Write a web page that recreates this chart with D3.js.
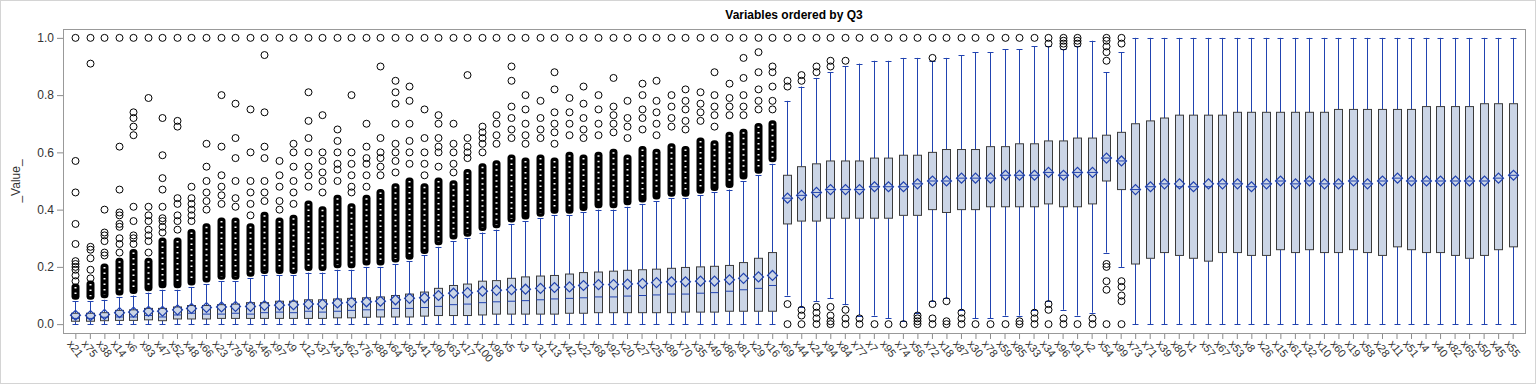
<!DOCTYPE html>
<html>
<head>
<meta charset="utf-8">
<script src="https://cdn.jsdelivr.net/npm/d3@7"></script>
<style>
  body { margin: 0; background: #fff; }
  svg { display: block; font-family: Arial, "Liberation Sans", sans-serif; }
</style>
</head>
<body>
<script>
'use strict';

// variable names, ordered by Q3
const names = ["x21","x75","x38","x14","x6","x93","x47","x52","x48","x66",
  "x23","x79","x36","x46","x97","x9","x12","x37","x43","x62",
  "x76","x88","x64","x83","x41","x90","x63","x17","x100","x98",
  "x5","x3","x31","x13","x42","x22","x68","x92","x20","x27",
  "x25","x89","x70","x35","x49","x86","x81","x29","x16","x69",
  "x44","x24","x94","x84","x77","x7","x95","x74","x56","x72",
  "x18","x87","x30","x78","x59","x85","x33","x34","x96","x91",
  "x2","x54","x99","x73","x71","x39","x80","x1","x57","x67",
  "x53","x8","x26","x15","x61","x32","x10","x60","x19","x58",
  "x28","x11","x51","x4","x40","x82","x65","x50","x45","x55"];

const q1 = [.010,.010,.012,.013,.013,.015,.012,.018,.018,.018,
  .020,.020,.020,.020,.020,.020,.020,.020,.022,.022,
  .024,.025,.025,.025,.028,.030,.030,.030,.032,.035,
  .035,.035,.035,.035,.038,.038,.040,.040,.040,.040,
  .040,.040,.042,.042,.042,.045,.045,.045,.045,.35,
  .36,.36,.37,.37,.37,.37,.37,.38,.38,.40,
  .39,.40,.40,.41,.41,.41,.41,.42,.41,.41,
  .42,.50,.47,.21,.23,.25,.24,.23,.22,.25,
  .25,.24,.24,.26,.25,.26,.25,.25,.26,.25,
  .24,.27,.26,.25,.25,.24,.23,.24,.26,.27];

const medians = [.020,.020,.024,.025,.025,.030,.025,.032,.038,.035,
  .035,.038,.035,.040,.042,.040,.045,.042,.045,.048,
  .050,.050,.055,.055,.058,.062,.068,.070,.075,.078,
  .080,.082,.085,.088,.090,.092,.095,.095,.098,.100,
  .102,.105,.105,.108,.110,.115,.120,.125,.135,.44,
  .45,.46,.47,.47,.47,.48,.48,.48,.49,.50,
  .50,.51,.51,.51,.52,.52,.52,.53,.52,.53,
  .53,.58,.57,.47,.48,.49,.48,.48,.48,.49,
  .49,.48,.49,.50,.49,.50,.49,.49,.50,.49,
  .50,.51,.50,.50,.50,.50,.50,.50,.51,.52];

const q3 = [.038,.038,.040,.048,.050,.055,.055,.060,.065,.065,
  .068,.070,.075,.075,.080,.080,.085,.085,.088,.090,
  .092,.095,.100,.105,.112,.125,.135,.140,.150,.152,
  .160,.165,.168,.170,.175,.180,.182,.185,.188,.190,
  .192,.195,.198,.200,.202,.205,.215,.230,.250,.52,
  .55,.56,.57,.57,.57,.58,.58,.59,.59,.60,
  .61,.61,.61,.62,.62,.63,.63,.64,.64,.65,
  .65,.66,.67,.70,.71,.72,.73,.73,.73,.73,
  .74,.74,.74,.74,.74,.74,.74,.75,.75,.75,
  .75,.75,.75,.76,.76,.76,.76,.77,.77,.77];

const means = [.031,.030,.034,.040,.042,.045,.045,.050,.055,.058,
  .060,.062,.062,.065,.066,.068,.070,.070,.074,.076,
  .078,.080,.085,.090,.092,.100,.108,.110,.115,.118,
  .120,.122,.125,.128,.130,.135,.138,.138,.140,.142,
  .145,.148,.148,.150,.150,.155,.160,.165,.170,.44,
  .45,.46,.47,.47,.47,.48,.48,.48,.49,.50,
  .50,.51,.51,.51,.52,.52,.52,.53,.52,.53,
  .53,.58,.57,.47,.48,.49,.49,.48,.49,.49,
  .49,.48,.49,.50,.49,.50,.49,.49,.50,.49,
  .50,.51,.50,.50,.50,.50,.50,.50,.51,.52];

const whiskerLo = [0,0,0,0,0,0,0,0,0,0, 0,0,0,0,0,0,0,0,0,0,
  0,0,0,0,0,0,0,0,0,0, 0,0,0,0,0,0,0,0,0,0,
  0,0,0,0,0,0,0,0,0,.10,
  .06,.08,.09,.07,.03,.03,.02,.01,.04,.08,
  .09,.05,.02,.02,.03,.03,.05,.08,.05,.03,
  .04,.25,.20,0,0,0,0,0,0,0,
  0,0,0,0,0,0,0,0,0,0, 0,0,0,0,0,0,0,0,0,0];

const whiskerHi = [.08,.08,.085,.095,.10,.11,.12,.12,.13,.14,
  .15,.15,.16,.17,.17,.17,.18,.18,.19,.19,
  .20,.20,.21,.22,.24,.27,.29,.30,.32,.33,
  .35,.36,.37,.38,.38,.39,.40,.40,.41,.42,
  .43,.44,.44,.45,.46,.47,.50,.52,.56,.78,
  .83,.86,.88,.90,.91,.92,.92,.93,.93,.92,
  .93,.94,.95,.95,.96,.96,.97,.97,.96,.97,
  .99,.88,.95,1,1,1,1,1,1,1,
  1,1,1,1,1,1,1,1,1,1, 1,1,1,1,1,1,1,1,1,1];

// top of the packed run of upper outliers (0 = none)
const denseTop = [.13,.14,.20,.22,.25,.22,.29,.29,.32,.34,
  .36,.36,.34,.38,.36,.37,.42,.40,.44,.41,
  .44,.46,.48,.50,.48,.50,.49,.53,.55,.56,
  .58,.57,.58,.57,.59,.58,.59,.60,.58,.61,
  .60,.62,.61,.64,.63,.66,.67,.69,.70,0,
  0,0,0,0,0,0,0,0,0,0, 0,0,0,0,0,0,0,0,0,0,
  0,0,0,0,0,0,0,0,0,0, 0,0,0,0,0,0,0,0,0,0,
  0,0,0,0,0,0,0,0,0,0];

// separate outliers
const outliers = [
  [.15,.17,.19,.20,.21,.22,.28,.35,.46,.57,1],
  [.16,.19,.23,.26,.27,.91,1],
  [.24,.25,.29,.31,.32,.40,1],
  [.25,.28,.30,.34,.35,.38,.39,.47,.62,1],
  [.28,.30,.31,.36,.41,.66,.69,.72,.74,1],
  [.25,.29,.31,.33,.36,.38,.41,.79,1],
  [.32,.34,.36,.37,.41,.47,.51,.59,.72,1],
  [.33,.36,.38,.42,.44,.69,.71,1],
  [.36,.38,.40,.42,.44,.48,1],
  [.40,.43,.46,.50,.55,.63,1],
  [.42,.45,.48,.52,.62,.80,1],
  [.41,.44,.50,.58,.65,.77,1],
  [.38,.42,.46,.50,.60,.75,1],
  [.43,.46,.50,.58,.62,.74,.94,1],
  [.40,.43,.48,.52,.57,1],
  [.42,.46,.50,.55,.60,.63,1],
  [.48,.52,.55,.60,.65,.71,.81,1],
  [.46,.50,.53,.57,.60,.73,1],
  [.50,.54,.56,.60,.64,.68,1],
  [.46,.48,.52,.56,.60,.80,1],
  [.48,.52,.56,.58,.62,.70,1],
  [.52,.55,.58,.60,.65,.90,1],
  [.53,.57,.60,.63,.70,.77,.81,.85,1],
  [.56,.60,.64,.70,.78,.83,1],
  [.52,.56,.60,.65,.75,1],
  [.55,.60,.62,.65,.70,.73,1],
  [.53,.56,.60,.63,.70,1],
  [.58,.60,.62,.65,.87,1],
  [.60,.63,.65,.67,.69,1],
  [.63,.66,.70,.73,1],
  [.65,.68,.72,.76,.85,.90,1],
  [.63,.66,.70,.75,.80,1],
  [.65,.68,.72,.78,1],
  [.63,.67,.70,.74,.82,.88,1],
  [.66,.70,.74,.79,1],
  [.65,.68,.72,.77,.83,1],
  [.66,.70,.75,.80,1],
  [.67,.70,.73,.76,.86,1],
  [.65,.69,.72,.78,1],
  [.68,.72,.75,.80,.84,1],
  [.66,.70,.74,.78,.85,1],
  [.69,.72,.76,.80,1],
  [.68,.71,.75,.78,.82,1],
  [.71,.74,.77,.81,1],
  [.69,.73,.76,.80,.88,1],
  [.73,.76,.79,.84,1],
  [.73,.76,.80,.86,.93,1],
  [.75,.78,.82,.88,.95,1],
  [.75,.78,.83,.88,.90,1],
  [0,.07,.83,.85,1],
  [0,.03,.05,.85,.87,1],
  [0,.02,.04,.06,.88,.90,1],
  [0,.01,.03,.06,.90,.92,1],
  [0,.02,.05,.92,1],
  [0,.02,1],
  [0,1],
  [0,1],
  [0,1],
  [0,.01,.02,.03,1],
  [0,.02,.07,.93,1],
  [0,.01,.08,1],
  [0,.02,.04,1],
  [0,1],
  [0,1],
  [0,1],
  [0,.01,1],
  [0,.02,.04,1],
  [0,.05,.07,.98,1],
  [0,.02,.97,.98,.99,1],
  [0,.98,.99,1],
  [0,.02],
  [0,.12,.15,.20,.21,.92,.95,.97,.99,1],
  [0,.08,.10,.13,.15,.98,1],
  [],[],[],[],[],[],[],[],[],[],
  [],[],[],[],[],[],[],[],[],[],
  [],[],[],[],[],[],[]
];

const yTicks = [0, 0.2, 0.4, 0.6, 0.8, 1.0];

const width = 1536, height = 384;
const frame = { left: 63, right: 1525, top: 29, bottom: 333 };
const boxColor = "#cbd5e6", lineBlue = "#2143b0", edgeGray = "#3c3c3c";

const svg = d3.select("body").append("svg")
  .attr("width", width)
  .attr("height", height);

// outer image border
svg.append("rect")
  .attr("x", 0.5).attr("y", 0.5)
  .attr("width", width - 1).attr("height", height - 1)
  .attr("fill", "none").attr("stroke", "#d4d4d4");

const x = d3.scalePoint()
  .domain(names)
  .range([frame.left, frame.right])
  .padding(0.85);

const y = d3.scaleLinear()
  .domain([-0.031, 1.031])
  .range([frame.bottom, frame.top]);

// title
svg.append("text")
  .attr("x", (frame.left + frame.right) / 2)
  .attr("y", 19)
  .attr("text-anchor", "middle")
  .style("font-size", "12px")
  .style("font-weight", "bold")
  .text("Variables ordered by Q3");

// y axis
const yAxis = d3.axisLeft(y).tickValues(yTicks).tickFormat(d3.format(".1f")).tickSize(6);
const gy = svg.append("g")
  .attr("transform", `translate(${frame.left},0)`)
  .call(yAxis);
gy.select(".domain").remove();
gy.selectAll(".tick line").attr("stroke", "#8c8c8c");
gy.selectAll(".tick text").attr("fill", "#333").style("font-size", "12px")
  .style("font-family", "Arial, 'Liberation Sans', sans-serif");

svg.append("text")
  .attr("transform", `translate(20, ${(frame.top + frame.bottom) / 2}) rotate(-90)`)
  .attr("text-anchor", "middle")
  .style("font-size", "12px")
  .attr("fill", "#333")
  .text("_Value_");

// x axis
const xAxis = d3.axisBottom(x).tickSize(6).tickSizeOuter(0);
const gx = svg.append("g")
  .attr("transform", `translate(0,${frame.bottom})`)
  .call(xAxis);
gx.select(".domain").remove();
gx.selectAll(".tick line").attr("stroke", "#8c8c8c");
gx.selectAll(".tick text")
  .attr("text-anchor", "start")
  .attr("x", 0).attr("y", 0).attr("dy", 0)
  .attr("transform", "translate(-9,11) rotate(52)")
  .attr("fill", "#333")
  .style("font-size", "11px")
  .style("font-family", "Arial, 'Liberation Sans', sans-serif");

// frame
svg.append("rect")
  .attr("x", frame.left + 0.5).attr("y", frame.top + 0.5)
  .attr("width", frame.right - frame.left).attr("height", frame.bottom - frame.top)
  .attr("fill", "none").attr("stroke", "#999");

const plot = svg.append("g");
const boxW = 8, capW = 6, r = 3.5;

names.forEach((name, i) => {
  const cx = Math.round(x(name)) + 0.5;
  const g = plot.append("g");

  // whiskers
  g.append("line")
    .attr("x1", cx).attr("x2", cx)
    .attr("y1", y(whiskerLo[i])).attr("y2", y(q1[i]))
    .attr("stroke", lineBlue);
  g.append("line")
    .attr("x1", cx).attr("x2", cx)
    .attr("y1", y(q3[i])).attr("y2", y(whiskerHi[i]))
    .attr("stroke", lineBlue);
  [whiskerLo[i], whiskerHi[i]].forEach(v => {
    g.append("line")
      .attr("x1", cx - capW / 2).attr("x2", cx + capW / 2)
      .attr("y1", Math.round(y(v)) + 0.5).attr("y2", Math.round(y(v)) + 0.5)
      .attr("stroke", lineBlue);
  });

  // box
  g.append("rect")
    .attr("x", cx - boxW / 2).attr("y", y(q3[i]))
    .attr("width", boxW).attr("height", Math.max(1, y(q1[i]) - y(q3[i])))
    .attr("fill", boxColor).attr("stroke", edgeGray);
  g.append("line")
    .attr("x1", cx - boxW / 2).attr("x2", cx + boxW / 2)
    .attr("y1", y(medians[i])).attr("y2", y(medians[i]))
    .attr("stroke", lineBlue);

  // mean diamond
  const my = y(means[i]);
  g.append("path")
    .attr("d", `M${cx - 5},${my} L${cx},${my - 5} L${cx + 5},${my} L${cx},${my + 5} Z`)
    .attr("fill", "none").attr("stroke", lineBlue).attr("stroke-width", 1.2);

  // packed run of outliers: overlapping rings, speckled centre
  if (denseTop[i] > 0) {
    const top = y(denseTop[i]), bot = y(whiskerHi[i]) - 5;
    g.append("rect")
      .attr("x", cx - r - 0.5).attr("y", top - r)
      .attr("width", 2 * r + 1).attr("height", Math.max(0, bot - top + 2 * r))
      .attr("rx", r).attr("fill", "#000");
    g.append("line")
      .attr("x1", cx).attr("x2", cx)
      .attr("y1", top).attr("y2", bot)
      .attr("stroke", "#fff").attr("stroke-width", 2)
      .attr("stroke-dasharray", "1.5,4");
  }

  // single outliers
  g.selectAll("circle")
    .data(outliers[i])
    .enter()
    .append("circle")
    .attr("cx", cx).attr("cy", d => y(d))
    .attr("r", r)
    .attr("fill", "none").attr("stroke", "#000");
});
</script>
</body>
</html>
